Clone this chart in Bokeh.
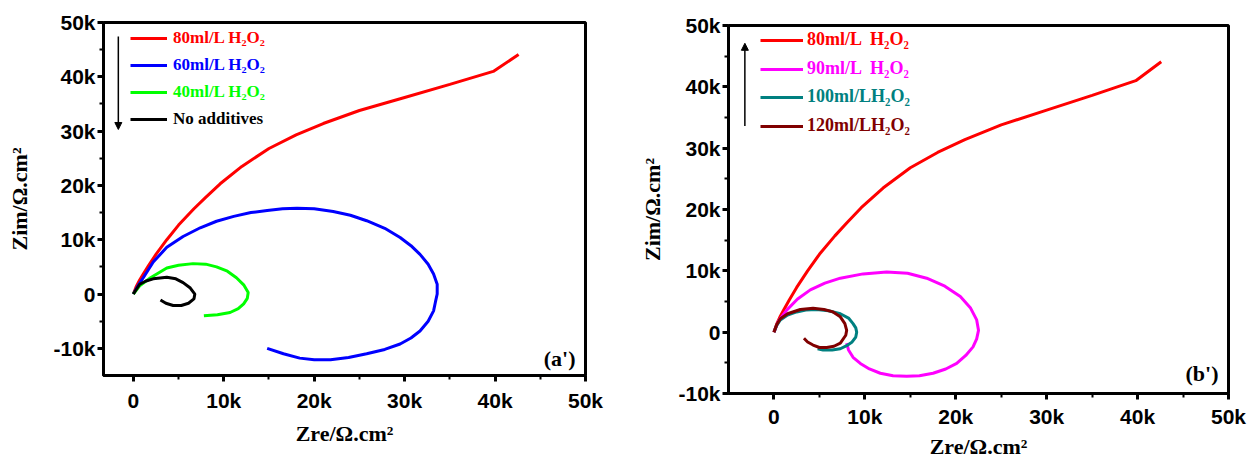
from bokeh.plotting import figure
from bokeh.layouts import row, column
from bokeh.models import FixedTicker, Legend, LegendItem, Arrow, NormalHead, Label, Range1d
from bokeh.embed import file_html
from bokeh.resources import INLINE

# ---------------- data (Zre, Zim in ohm.cm^2) ----------------
red_x = [0, 300, 700, 1100, 1700, 2500, 3700, 5000, 6700, 8000, 9600, 12000, 15000, 18000, 21000, 25000, 30000, 35000, 39800, 42600]
red_y = [0, 1300, 2600, 3700, 5300, 7300, 10000, 12700, 15700, 17800, 20300, 23500, 26800, 29300, 31400, 33800, 36200, 38600, 41000, 44100]

blue_x = [0, 500, 1100, 2200, 3700, 5500, 7400, 9200, 11100, 13000, 14800, 16500, 18100, 20000, 22100, 24000, 25800, 27800, 29500, 30700, 31700, 32600, 33200, 33600,
          33600, 33400, 33200, 32600, 31700, 30700, 29500, 27800, 25800, 23800, 21800, 20000, 18400, 16600, 14800]
blue_y = [0, 1500, 3000, 5900, 8600, 10600, 12200, 13400, 14300, 15000, 15400, 15700, 15800, 15700, 15200, 14500, 13500, 12100, 10400, 8900, 7300, 5500, 3700, 1800,
          0, -1500, -3100, -5000, -6800, -8100, -9200, -10200, -11000, -11700, -12100, -12100, -11800, -11000, -10000]

green_x = [0, 700, 1900, 3700, 5000, 6600, 8000, 9200, 10400, 11400, 12200, 12700, 12600, 12200, 11600, 10700, 9300, 7800]
green_y = [0, 1500, 3000, 4800, 5300, 5600, 5500, 5000, 4200, 3000, 1700, 300, -800, -1800, -2700, -3400, -3800, -4000]

black_x = [0, 700, 1400, 2200, 3700, 4700, 5500, 6300, 6800, 6700, 6100, 5300, 4400, 3600, 3000]
black_y = [0, 1800, 2400, 2800, 3100, 2800, 2100, 1100, 0, -900, -1700, -2100, -2100, -1700, -1100]

mag_x = [0, 500, 1400, 2600, 4000, 5600, 7300, 9800, 12400, 14700, 16800, 18800, 20500, 21600, 22300, 22500, 22300, 21900, 21100, 20100, 18900, 17500, 16000, 14600,
         13100, 11700, 10500, 9500, 8700, 8200, 8000]
mag_y = [0, 1800, 3600, 5400, 6900, 8000, 8800, 9500, 9800, 9600, 8800, 7500, 5800, 4000, 2000, 300, -1100, -2400, -3800, -5100, -6000, -6700, -7100, -7200,
         -7100, -6700, -6000, -5100, -4100, -2900, -1800]

teal_x = [0, 300, 700, 1500, 2500, 3500, 4700, 6000, 7300, 8200, 8700, 9000, 9100, 9000, 8600, 8000, 7300, 6400, 5400, 4800]
teal_y = [0, 1100, 2000, 2800, 3300, 3600, 3700, 3500, 3000, 2300, 1400, 700, 0, -800, -1600, -2200, -2700, -2900, -2900, -2700]

brown_x = [0, 300, 700, 1500, 2900, 4300, 5500, 6500, 7300, 7800, 8000, 7900, 7300, 6600, 5800, 5000, 4300, 3700, 3300]
brown_y = [0, 1200, 2200, 3000, 3700, 3900, 3700, 3300, 2500, 1400, 300, -500, -1800, -2300, -2500, -2500, -2100, -1600, -1000]

x_ticks = [0, 10000, 20000, 30000, 40000, 50000]
x_tick_labels = ["0", "10k", "20k", "30k", "40k", "50k"]
y_ticks = [-10000, 0, 10000, 20000, 30000, 40000, 50000]
y_tick_labels = ["-10k", "0", "10k", "20k", "30k", "40k", "50k"]

labels_a = ["80ml/L H\u2082O\u2082", "60ml/L H\u2082O\u2082", "40ml/L H\u2082O\u2082", "No additives"]
labels_b = ["80ml/L  H\u2082O\u2082", "90ml/L  H\u2082O\u2082", "100ml/LH\u2082O\u2082", "120ml/LH\u2082O\u2082"]
colors_a = ["#ff0000", "#0000ff", "#00ff00", "#000000"]
colors_b = ["#ff0000", "#ff00ff", "#008080", "#800000"]
x_title = "Zre/\u03a9.cm\u00b2"
y_title = "Zim/\u03a9.cm\u00b2"

SANS = "Liberation Sans"
SERIF = "Liberation Serif"


def minor_between(t):
    return [(a + b) / 2 for a, b in zip(t[:-1], t[1:])]


def style(p, xt, xl, yt, yl, lab_std_x, axlab_std_x, axlab_std_y):
    p.xgrid.visible = False
    p.ygrid.visible = False
    p.outline_line_color = "black"
    p.outline_line_width = 3
    for ax, t, l in ((p.xaxis[0], xt, xl), (p.yaxis[0], yt, yl)):
        ax.ticker = FixedTicker(ticks=t, minor_ticks=minor_between(t))
        ax.major_label_overrides = {v: s for v, s in zip(t, l)}
        ax.axis_line_width = 3
        ax.axis_line_color = "black"
        ax.major_tick_line_width = 3
        ax.minor_tick_line_width = 2
        ax.major_tick_in = 0
        ax.major_tick_out = 6
        ax.minor_tick_in = 0
        ax.minor_tick_out = 4
        ax.major_label_text_font = SANS
        ax.major_label_text_font_style = "bold"
        ax.major_label_text_font_size = "21px"
        ax.major_label_text_color = "black"
        ax.axis_label_text_font = SERIF
        ax.axis_label_text_font_style = "bold"
        ax.axis_label_text_font_size = "22px"
        ax.axis_label_text_color = "black"
    p.xaxis[0].major_label_standoff = lab_std_x
    p.yaxis[0].major_label_standoff = 2
    p.xaxis[0].axis_label_standoff = axlab_std_x
    p.yaxis[0].axis_label_standoff = axlab_std_y
    p.xaxis[0].axis_label = x_title
    p.yaxis[0].axis_label = y_title


def add_legends(p, renderers, labels, colors, x0, bottoms, gw, std, fs):
    for r, lab, c, b in zip(renderers, labels, colors, bottoms):
        leg = Legend(items=[LegendItem(label=lab, renderers=[r])], location=(x0, b),
                     padding=0, margin=0, spacing=0, glyph_width=gw, glyph_height=20,
                     label_height=20, label_standoff=std, label_text_font=SERIF,
                     label_text_font_style="bold", label_text_font_size=fs,
                     label_text_color=c, background_fill_alpha=0, border_line_alpha=0)
        p.add_layout(leg)


# ---------------- panel (a') ----------------
pa = figure(width=620, height=461, output_backend="svg", toolbar_location=None,
            x_range=Range1d(-3300, 50000), y_range=Range1d(-15000, 50000),
            min_border_left=103, min_border_right=35, min_border_top=22, min_border_bottom=86)
style(pa, x_ticks, x_tick_labels, y_ticks, y_tick_labels, 7, 6, 18)
ra = [pa.line(red_x, red_y, line_color=colors_a[0], line_width=3),
      pa.line(blue_x, blue_y, line_color=colors_a[1], line_width=3),
      pa.line(green_x, green_y, line_color=colors_a[2], line_width=3),
      pa.line(black_x, black_y, line_color=colors_a[3], line_width=3)]
add_legends(pa, ra, labels_a, colors_a, 27, [327, 300, 273, 246], 37, 6, "17px")
pa.add_layout(Arrow(end=NormalHead(size=7, fill_color="black", line_color="black"),
                    x_start=-1660, y_start=47400, x_end=-1660, y_end=30300,
                    line_width=1.5, line_color="black"))
pa.add_layout(Label(x=48900, y=-11800, text="(a')", text_align="right", text_baseline="middle",
                    text_font=SERIF, text_font_style="bold", text_font_size="22px", text_color="black"))

# ---------------- panel (b') ----------------
pb = figure(width=632, height=461, output_backend="svg", toolbar_location=None,
            x_range=Range1d(-5000, 50000), y_range=Range1d(-10000, 50000),
            min_border_left=108, min_border_right=24, min_border_top=25, min_border_bottom=68)
style(pb, x_ticks, x_tick_labels, y_ticks, y_tick_labels, 5, 3, 10)
rb = [pb.line(red_x, red_y, line_color=colors_b[0], line_width=3),
      pb.line(mag_x, mag_y, line_color=colors_b[1], line_width=3),
      pb.line(teal_x, teal_y, line_color=colors_b[2], line_width=3),
      pb.line(brown_x, brown_y, line_color=colors_b[3], line_width=3)]
add_legends(pb, rb, labels_b, colors_b, 32, [343, 314, 286, 257], 43, 4, "18px")
pb.add_layout(Arrow(end=NormalHead(size=7, fill_color="black", line_color="black"),
                    x_start=-3200, y_start=33600, x_end=-3200, y_end=47100,
                    line_width=1.5, line_color="black"))
pb.add_layout(Label(x=48900, y=-6700, text="(b')", text_align="right", text_baseline="middle",
                    text_font=SERIF, text_font_style="bold", text_font_size="22px", text_color="black"))

layout = row(column(pa), column(pb))
open("out.html", "w").write(file_html(layout, INLINE))
